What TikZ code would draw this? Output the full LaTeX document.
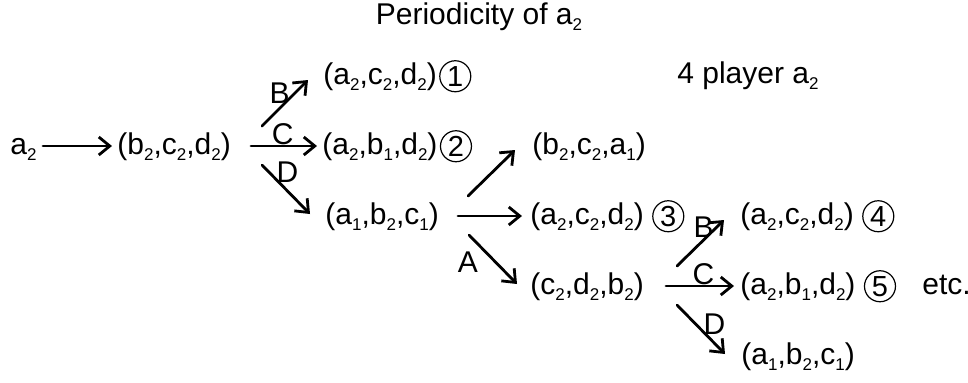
\documentclass[tikz,border=0pt]{standalone}
\usepackage{fontspec}
\setmainfont{Liberation Sans}
\usetikzlibrary{arrows.meta,positioning}
\newcommand{\ix}[1]{\raisebox{-0.2em}{\fontsize{8.5pt}{8.5pt}\selectfont #1}}
\tikzset{
  tup/.style={anchor=base west, inner sep=0pt, font=\fontsize{15pt}{18pt}\selectfont},
  lab/.style={inner sep=0pt, font=\fontsize{15pt}{18pt}\selectfont},
  num/.style={circle, draw, line width=0.6pt, minimum size=15.5pt, inner sep=0pt, font=\fontsize{14.5pt}{17pt}\selectfont},
  arr/.style={-{Straight Barb[length=5.5pt,width=9pt]}, line width=1.4pt}
}
\begin{document}
\begin{tikzpicture}[x=0.5pt, y=-0.5pt, line cap=round, line join=round]
\useasboundingbox (0,0) rectangle (968,382);
% headings
\node[tup, anchor=base] (title) at (479,24) {Periodicity of a\ix{2}};
\node[tup] (player) at (677,83) {4 player a\ix{2}};
% first fork
\node[tup] (a2) at (10,154) {a\ix{2}};
\node[tup] (bcd) at (117,154) {(b\ix{2},c\ix{2},d\ix{2})};
\node[tup] (acdA) at (323,84) {(a\ix{2},c\ix{2},d\ix{2})};
\node[num, right=1pt of acdA] (n1) {1};
\node[tup] (abdA) at (322,154) {(a\ix{2},b\ix{1},d\ix{2})};
\node[num, right=1pt of abdA] (n2) {2};
\node[tup] (abcA) at (325,224) {(a\ix{1},b\ix{2},c\ix{1})};
% second fork
\node[tup] (bca) at (532,154) {(b\ix{2},c\ix{2},a\ix{1})};
\node[tup] (acdB) at (530,224) {(a\ix{2},c\ix{2},d\ix{2})};
\node[num, right=4pt of acdB] (n3) {3};
\node[tup] (cdb) at (530,294) {(c\ix{2},d\ix{2},b\ix{2})};
% third fork
\node[tup] (acdC) at (740,224) {(a\ix{2},c\ix{2},d\ix{2})};
\node[num, right=4pt of acdC] (n4) {4};
\node[tup] (abdB) at (740,294) {(a\ix{2},b\ix{1},d\ix{2})};
\node[num, right=4pt of abdB] (n5) {5};
\node[tup] (etc) at (922,294) {etc.};
\node[tup] (abcB) at (741,364) {(a\ix{1},b\ix{2},c\ix{1})};

\draw[arr] ([shift={(33,-8)}]a2.base west) -- ([shift={(-5,-8)}]bcd.base west);
% moves from (b2,c2,d2)
\draw[arr] ([shift={(145,-28)}]bcd.base west) -- node[lab, pos=0.72, left=2pt]{B} ([shift={(-15,-4)}]acdA.base west);
\draw[arr] ([shift={(134,-8)}]bcd.base west) -- node[lab, pos=0.48, above]{C} ([shift={(-5,-8)}]abdA.base west);
\draw[arr] ([shift={(145,11)}]bcd.base west) -- node[lab, pos=0.15, right=3pt]{D} ([shift={(-15,-10)}]abcA.base west);
% moves from (a1,b2,c1)
\draw[arr] ([shift={(143,-28)}]abcA.base west) -- ([shift={(-17,-4)}]bca.base west);
\draw[arr] ([shift={(133,-8)}]abcA.base west) -- ([shift={(-8,-8)}]acdB.base west);
\draw[arr] ([shift={(144,11)}]abcA.base west) -- node[lab, pos=0.55, left=8pt]{A} ([shift={(-13,-10)}]cdb.base west);
% moves from (c2,d2,b2)
\draw[arr] ([shift={(147,-28)}]cdb.base west) -- node[lab, pos=0.85, left=1pt]{B} ([shift={(-16,-4)}]acdC.base west);
\draw[arr] ([shift={(136,-8)}]cdb.base west) -- node[lab, pos=0.55, above]{C} ([shift={(-6,-8)}]abdB.base west);
\draw[arr] ([shift={(147,11)}]cdb.base west) -- node[lab, pos=0.4, right=3pt]{D} ([shift={(-16,-10)}]abcB.base west);
\end{tikzpicture}
\end{document}
